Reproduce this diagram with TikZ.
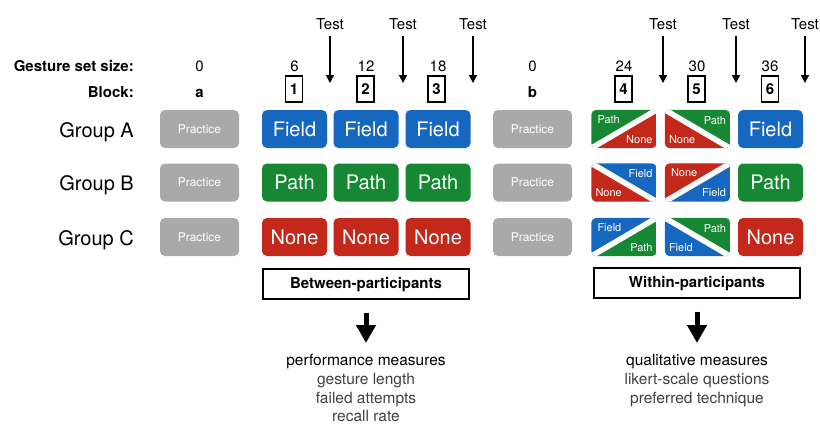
\documentclass[tikz,border=0pt]{standalone}
\usepackage{fontspec}
\setmainfont{TeX Gyre Heros}
\usetikzlibrary{arrows.meta}

\definecolor{fieldblue}{RGB}{22,103,192}
\definecolor{pathgreen}{RGB}{22,135,50}
\definecolor{nonered}{RGB}{196,40,27}
\definecolor{practicegray}{RGB}{168,169,168}

% split cell, diagonal rising: name, position, upper colour, lower colour, upper text, lower text
\newcommand{\splitup}[6]{%
  \node[cell] (#1) at #2 {};
  \begin{scope}
    \clip[rounded corners=5pt] (#1.south west) rectangle (#1.north east);
    \fill[#3] (#1.south west) -- (#1.north west) -- (#1.north east) -- cycle;
    \fill[#4] (#1.south west) -- (#1.south east) -- (#1.north east) -- cycle;
    \draw[gap] (#1.south west) -- (#1.north east);
  \end{scope}
  \node[small, anchor=north west, xshift=6pt, yshift=-5pt] (#1u) at (#1.north west) {#5};
  \node[small, anchor=base east, xshift=-4pt, yshift=5pt] (#1l) at (#1.south east) {#6};
}
% split cell, diagonal falling
\newcommand{\splitdown}[6]{%
  \node[cell] (#1) at #2 {};
  \begin{scope}
    \clip[rounded corners=5pt] (#1.south west) rectangle (#1.north east);
    \fill[#3] (#1.north west) -- (#1.north east) -- (#1.south east) -- cycle;
    \fill[#4] (#1.north west) -- (#1.south west) -- (#1.south east) -- cycle;
    \draw[gap] (#1.north west) -- (#1.south east);
  \end{scope}
  \node[small, anchor=north east, xshift=-4pt, yshift=-6pt] (#1u) at (#1.north east) {#5};
  \node[small, anchor=base west, xshift=4pt, yshift=5pt] (#1l) at (#1.south west) {#6};
}

\begin{document}
\begin{tikzpicture}[x=1pt, y=-1pt,
  every node/.style={inner sep=0pt},
  lbl/.style={anchor=base, font=\fontsize{15}{18}\selectfont},
  lblb/.style={anchor=base, font=\bfseries\fontsize{15}{18}\selectfont},
  group/.style={anchor=base east, font=\fontsize{20}{24}\selectfont},
  cell/.style={minimum width=65pt, minimum height=38pt},
  cond/.style={cell, rounded corners=5pt, text=white, font=\fontsize{20}{24}\selectfont},
  fieldc/.style={cond, fill=fieldblue},
  pathc/.style={cond, fill=pathgreen},
  nonec/.style={cond, fill=nonered},
  practice/.style={cond, fill=practicegray, minimum width=79pt, font=\fontsize{12}{14}\selectfont},
  small/.style={text=white, font=\fontsize{11}{13}\selectfont},
  gap/.style={white, line width=5.5pt},
  blockbox/.style={draw, line width=1.2pt, minimum width=17pt, minimum height=26pt,
    font=\bfseries\fontsize{15}{18}\selectfont},
  testarrow/.style={-{Triangle[length=8pt,width=8pt]}, line width=1.2pt, shorten <=7pt},
  design/.style={draw, line width=1.2pt, minimum width=206pt, minimum height=30pt,
    text height=11pt, text depth=3pt, font=\bfseries\fontsize{15}{18}\selectfont},
  bigarrow/.style={-{Triangle[length=18pt,width=19pt]}, line width=5pt, shorten <=13pt},
  measures/.style={align=center, anchor=north, font=\fontsize{15.5}{18.8}\selectfont}
]
  \useasboundingbox (0,0) rectangle (820,424);

  % Row headings
  \node[lblb, anchor=base east] (sizehd) at (134,71) {Gesture set size:};
  \node[lblb, anchor=base east] (blockhd) at (134,97) {Block:};

  % Gesture set sizes
  \node[lbl] (s0a) at (199.5,71) {0};
  \node[lbl] (s6) at (294.5,71) {6};
  \node[lbl] (s12) at (366,71) {12};
  \node[lbl] (s18) at (438,71) {18};
  \node[lbl] (s0b) at (532.5,71) {0};
  \node[lbl] (s24) at (624,71) {24};
  \node[lbl] (s30) at (697,71) {30};
  \node[lbl] (s36) at (770,71) {36};

  % Blocks
  \node[lblb] (ka) at (199.5,97) {a};
  \node[blockbox] (k1) at (294,89) {1};
  \node[blockbox] (k2) at (365.5,89) {2};
  \node[blockbox] (k3) at (436.5,89) {3};
  \node[lblb] (kb) at (532.5,97) {b};
  \node[blockbox] (k4) at (623.5,89) {4};
  \node[blockbox] (k5) at (696.5,89) {5};
  \node[blockbox] (k6) at (770,89) {6};

  % Tests
  \node[lbl] (t1) at (330,29) {Test};
  \node[lbl] (t2) at (403,29) {Test};
  \node[lbl] (t3) at (473,29) {Test};
  \node[lbl] (t4) at (663,29) {Test};
  \node[lbl] (t5) at (736,29) {Test};
  \node[lbl] (t6) at (805,29) {Test};
  \coordinate (t1e) at (330,83);
  \coordinate (t2e) at (403,83);
  \coordinate (t3e) at (473,83);
  \coordinate (t4e) at (663,83);
  \coordinate (t5e) at (736,83);
  \coordinate (t6e) at (805,83);
  \draw[testarrow] (t1.south) -- (t1e);
  \draw[testarrow] (t2.south) -- (t2e);
  \draw[testarrow] (t3.south) -- (t3e);
  \draw[testarrow] (t4.south) -- (t4e);
  \draw[testarrow] (t5.south) -- (t5e);
  \draw[testarrow] (t6.south) -- (t6e);

  % Groups
  \node[group] (gA) at (134,137) {Group A};
  \node[group] (gB) at (134,190.5) {Group B};
  \node[group] (gC) at (134,245) {Group C};

  % Practice
  \node[practice] (Aa) at (199.5,129) {Practice};
  \node[practice] (Ba) at (199.5,182.5) {Practice};
  \node[practice] (Ca) at (199.5,237) {Practice};
  \node[practice] (Ab) at (532.5,129) {Practice};
  \node[practice] (Bb) at (532.5,182.5) {Practice};
  \node[practice] (Cb) at (532.5,237) {Practice};

  % Between-participants blocks
  \node[fieldc] (A1) at (294.5,129) {Field};
  \node[fieldc] (A2) at (366,129) {Field};
  \node[fieldc] (A3) at (438,129) {Field};
  \node[pathc] (B1) at (294.5,182.5) {Path};
  \node[pathc] (B2) at (366,182.5) {Path};
  \node[pathc] (B3) at (438,182.5) {Path};
  \node[nonec] (C1) at (294.5,237) {None};
  \node[nonec] (C2) at (366,237) {None};
  \node[nonec] (C3) at (438,237) {None};

  % Within-participants blocks
  \splitup{A4}{(624,129)}{pathgreen}{nonered}{Path}{None}
  \splitdown{A5}{(697.5,129)}{pathgreen}{nonered}{Path}{None}
  \node[fieldc] (A6) at (770.5,129) {Field};
  \splitdown{B4}{(624,182.5)}{fieldblue}{nonered}{Field}{None}
  \splitup{B5}{(697.5,182.5)}{nonered}{fieldblue}{None}{Field}
  \node[pathc] (B6) at (770.5,182.5) {Path};
  \splitup{C4}{(624,237)}{fieldblue}{pathgreen}{Field}{Path}
  \splitdown{C5}{(697.5,237)}{pathgreen}{fieldblue}{Path}{Field}
  \node[nonec] (C6) at (770.5,237) {None};

  % Designs and measures
  \node[design] (between) at (366,284) {Between-participants};
  \node[design] (within) at (697,283) {Within-participants};
  \coordinate (betweene) at (366,343);
  \coordinate (withine) at (697,343);
  \draw[bigarrow] (between.south) -- (betweene);
  \draw[bigarrow] (within.south) -- (withine);
  \node[measures] (perf) at (366,354) {performance measures\\
    \color{black!75}gesture length\\ \color{black!75}failed attempts\\
    \color{black!75}recall rate};
  \node[measures] (qual) at (697,354) {qualitative measures\\
    \color{black!75}likert-scale questions\\ \color{black!75}preferred technique};

\end{tikzpicture}
\end{document}
